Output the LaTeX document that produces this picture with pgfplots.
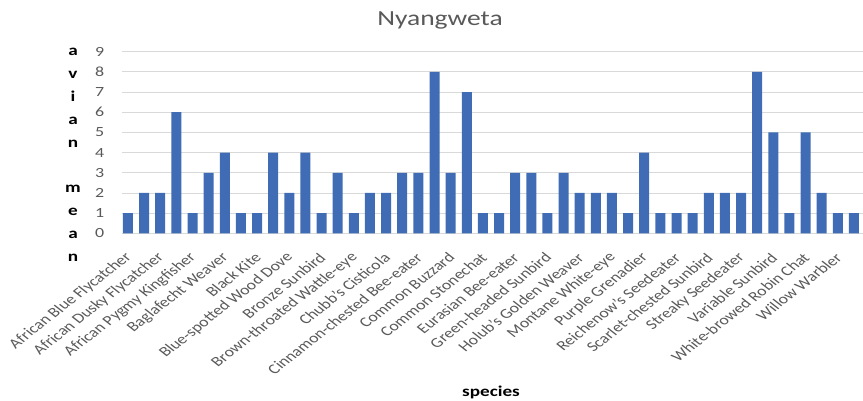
\documentclass[border=0pt]{standalone}
\usepackage{fontspec}
\setmainfont{Carlito}
\usepackage{pgfplots}
\usepackage{pgfplotstable}
\pgfplotsset{compat=1.18}
\definecolor{barblue}{HTML}{3F6CB4}
\definecolor{txtgray}{HTML}{595959}
\definecolor{gridgray}{HTML}{D9D9D9}
\pgfplotstableread{
x y
0 1
1 2
2 2
3 6
4 1
5 3
6 4
7 1
8 1
9 4
10 2
11 4
12 1
13 3
14 1
15 2
16 2
17 3
18 3
19 8
20 3
21 7
22 1
23 1
24 3
25 3
26 1
27 3
28 2
29 2
30 2
31 1
32 4
33 1
34 1
35 1
36 2
37 2
38 2
39 8
40 5
41 1
42 5
43 2
44 1
45 1
}\datatable
\begin{document}
\begin{tikzpicture}[x=1pt,y=1pt]
\useasboundingbox (0,0) rectangle (863,400);
\begin{axis}[
  at={(122pt,166.7pt)}, anchor=south west,
  scale only axis, width=741pt, height=181.6pt,
  xmin=-0.37, xmax=45.56, ymin=0, ymax=9,
  ybar, bar width=10pt,
  axis line style={draw=none},
  major tick length=0pt,
  tick style={draw=none},
  ytick={0,1,...,9},
  ymajorgrids, grid style={gridgray, line width=0.8pt},
  /pgf/number format/assume math mode=true,
  yticklabel style={font=\fontsize{14}{14}\selectfont, text=txtgray, anchor=east, inner sep=0pt, xshift=-17.5pt, xscale=1.28},
  xtick={0,2,...,44},
  xticklabels={African Blue Flycatcher, African Dusky Flycatcher, African Pygmy Kingfisher, Baglafecht Weaver, Black Kite, Blue-spotted Wood Dove, Bronze Sunbird, Brown-throated Wattle-eye, Chubb's Cisticola, Cinnamon-chested Bee-eater, Common Buzzard, Common Stonechat, Eurasian Bee-eater, Green-headed Sunbird, Holub's Golden Weaver, Montane White-eye, Purple Grenadier, Reichenow's Seedeater, Scarlet-chested Sunbird, Streaky Seedeater, Variable Sunbird, White-browed Robin Chat, Willow Warbler},
  xticklabel style={font=\fontsize{13.9}{14}\selectfont, text=txtgray, anchor=east, inner sep=0pt, xshift=1pt, yshift=-22pt, xscale=1.28, rotate=45},
]
\addplot[fill=barblue, draw=none] table[x=x, y=y] {\datatable};
\end{axis}
\node[font=\fontsize{21.5}{22}\selectfont, text=txtgray, xscale=1.28, anchor=base] at (440,374) {Nyangweta};
\node[font=\fontsize{15}{15}\selectfont\bfseries, xscale=1.28, anchor=base] at (491,3.3) {species};
\foreach \l [count=\i from 0] in {a,v,i,a,n,,m,e,a,n} {
  \node[font=\fontsize{15}{15}\selectfont\bfseries, xscale=1.28, anchor=base] at (73,344.5-22.9*\i) {\l};
}
\end{tikzpicture}
\end{document}
